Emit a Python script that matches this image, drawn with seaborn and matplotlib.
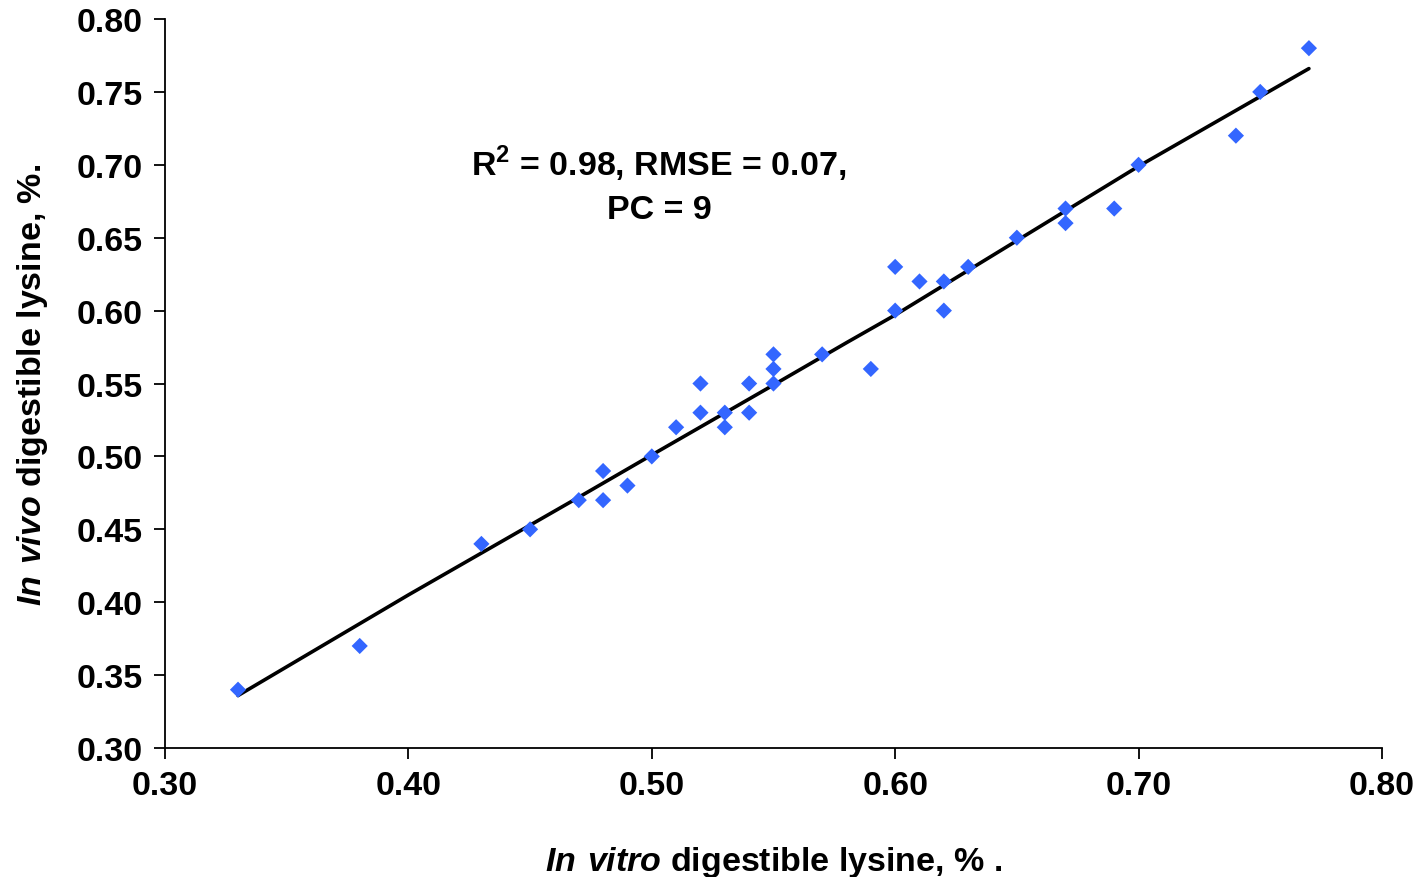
import seaborn as sns
import matplotlib.pyplot as plt
import pandas as pd

in_vitro = [0.33, 0.38, 0.43, 0.45, 0.47, 0.48, 0.48, 0.49, 0.50, 0.51, 0.52, 0.52,
            0.53, 0.53, 0.54, 0.54, 0.55, 0.55, 0.55, 0.57, 0.59, 0.60, 0.60, 0.61,
            0.62, 0.62, 0.63, 0.65, 0.67, 0.67, 0.69, 0.70, 0.74, 0.75, 0.77]
in_vivo = [0.34, 0.37, 0.44, 0.45, 0.47, 0.49, 0.47, 0.48, 0.50, 0.52, 0.55, 0.53,
           0.53, 0.52, 0.55, 0.53, 0.57, 0.56, 0.55, 0.57, 0.56, 0.63, 0.60, 0.62,
           0.62, 0.60, 0.63, 0.65, 0.67, 0.66, 0.67, 0.70, 0.72, 0.75, 0.78]

# fitted (predicted) line
fit_x = [0.33, 0.40, 0.47, 0.50, 0.55, 0.58, 0.60, 0.65, 0.70, 0.77]
fit_y = [0.336, 0.405, 0.472, 0.501, 0.549, 0.578, 0.597, 0.648, 0.699, 0.766]

df = pd.DataFrame({"x": in_vitro, "y": in_vivo})
fit = pd.DataFrame({"x": fit_x, "y": fit_y})

sns.set_style("white")
plt.rcParams['font.family'] = ['Liberation Sans', 'DejaVu Sans']
plt.rcParams['font.weight'] = 'bold'
plt.rcParams['text.color'] = 'black'
plt.rcParams['axes.labelcolor'] = 'black'
plt.rcParams['xtick.color'] = 'black'
plt.rcParams['ytick.color'] = 'black'
plt.rcParams['mathtext.fontset'] = 'custom'
plt.rcParams['mathtext.rm'] = 'Liberation Sans:bold'
plt.rcParams['mathtext.bfit'] = 'Liberation Sans:italic:bold'

fig = plt.figure(figsize=(14.2, 8.78), dpi=100)
ax = fig.add_axes([0.1162, 0.1469, 0.857, 0.8303])

sns.lineplot(data=fit, x="x", y="y", color="black", linewidth=2.6, ax=ax)
sns.scatterplot(data=df, x="x", y="y", marker="D", s=68, color="#3366FF",
                edgecolor="none", ax=ax, zorder=3)

ax.set_xlim(0.30, 0.80)
ax.set_ylim(0.30, 0.80)
ax.set_xticks([0.30, 0.40, 0.50, 0.60, 0.70, 0.80])
ax.set_yticks([0.30, 0.35, 0.40, 0.45, 0.50, 0.55, 0.60, 0.65, 0.70, 0.75, 0.80])
ax.xaxis.set_major_formatter(plt.FormatStrFormatter('%.2f'))
ax.yaxis.set_major_formatter(plt.FormatStrFormatter('%.2f'))
ax.tick_params(axis='both', which='major', labelsize=24.5, direction='out',
               length=8, width=1.3, color='black', left=True, bottom=True, pad=8)
for t in ax.get_xticklabels() + ax.get_yticklabels():
    t.set_fontweight('bold')

sns.despine(ax=ax)
for s in ['left', 'bottom']:
    ax.spines[s].set_color('black')
    ax.spines[s].set_linewidth(1.3)

ax.set_xlabel(r'$\mathbfit{In\ vitro}$ digestible lysine, % .', fontsize=24.5,
              fontweight='bold', labelpad=31)
ax.set_ylabel(r'$\mathbfit{In\ vivo}$ digestible lysine, %.', fontsize=24.5,
              fontweight='bold', labelpad=19)

ax.text(0.503, 0.687, "R$^{2}$ = 0.98, RMSE = 0.07,\nPC = 9", fontsize=24.5,
        fontweight='bold', ha='center', va='center', multialignment='center',
        linespacing=1.45)

fig.savefig("out.png", dpi=100)
